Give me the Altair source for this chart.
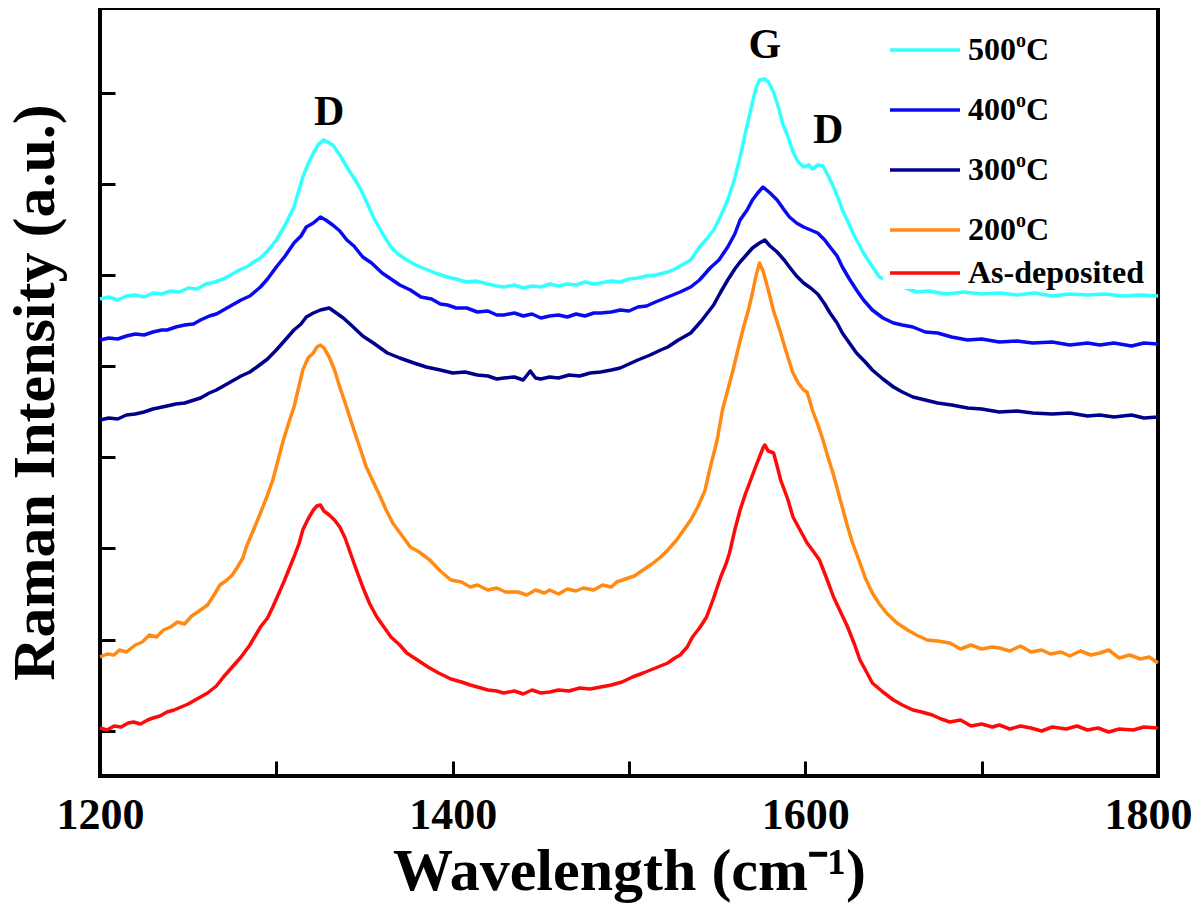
import altair as alt
import pandas as pd

# ---------------- data ----------------
SERIES = ["500oC", "400oC", "300oC", "200oC", "As-deposited"]
COLORS = ["#33FFFF", "#0A0AF0", "#00008B", "#FF8A14", "#FF0A0A"]

# (wavenumber cm-1, intensity a.u.) pairs for each spectrum
S_500 = [(1200, 477), (1205, 479), (1210, 476), (1215, 480), (1220, 481), (1225, 479), (1230, 483),
         (1235, 482), (1240, 485), (1245, 484), (1250, 488), (1255, 487), (1260, 492), (1265, 494),
         (1270, 497), (1275, 502), (1279, 506), (1284, 510), (1288, 515), (1291, 518), (1295, 525),
         (1300, 536), (1305, 551), (1310, 569), (1315, 599), (1318, 612), (1321, 623), (1324, 632),
         (1327, 636), (1329, 634), (1332, 631), (1336, 621), (1340, 609), (1344, 598), (1348, 586),
         (1352, 571), (1355, 559), (1360, 543), (1365, 529), (1369, 522), (1374, 516), (1379, 511),
         (1386, 506), (1390, 503), (1397, 499), (1402, 497), (1408, 494), (1413, 495), (1420, 492),
         (1425, 490), (1429, 489), (1435, 491), (1440, 488), (1445, 490), (1450, 489), (1455, 492),
         (1460, 490), (1465, 492), (1470, 491), (1475, 494), (1480, 492), (1484, 493), (1490, 495),
         (1495, 494), (1500, 497), (1505, 498), (1510, 500), (1515, 501), (1522, 504), (1526, 507),
         (1529, 510), (1535, 516), (1540, 529), (1544, 537), (1548, 546), (1552, 560), (1556, 576),
         (1560, 598), (1563, 619), (1566, 643), (1569, 666), (1572, 688), (1574, 696), (1577, 697),
         (1579, 694), (1582, 684), (1585, 667), (1587, 653), (1590, 640), (1593, 624), (1596, 614),
         (1599, 609), (1602, 611), (1604, 607), (1607, 611), (1610, 610), (1613, 600), (1616, 589),
         (1619, 576), (1621, 566), (1624, 555), (1627, 543), (1630, 533), (1633, 523), (1637, 512),
         (1642, 499), (1648, 494), (1654, 490), (1663, 484), (1670, 485), (1680, 482), (1690, 484),
         (1700, 482), (1710, 483), (1720, 481), (1730, 483), (1740, 480), (1750, 482), (1760, 481),
         (1770, 482), (1780, 480), (1790, 481), (1800, 480)]

S_400 = [(1200, 436), (1205, 438), (1210, 437), (1215, 440), (1220, 442), (1225, 441), (1230, 444),
         (1235, 446), (1238, 446), (1243, 449), (1248, 451), (1253, 452), (1257, 456), (1262, 460),
         (1266, 462), (1271, 467), (1275, 471), (1280, 476), (1285, 480), (1291, 489), (1295, 497),
         (1300, 509), (1305, 520), (1310, 533), (1314, 540), (1317, 549), (1321, 553), (1325, 559),
         (1328, 556), (1332, 551), (1336, 545), (1340, 536), (1344, 530), (1349, 519), (1354, 513),
         (1360, 503), (1365, 497), (1370, 491), (1376, 486), (1382, 479), (1388, 477), (1393, 472),
         (1397, 471), (1402, 468), (1408, 468), (1414, 464), (1420, 465), (1425, 461), (1429, 461),
         (1435, 463), (1440, 460), (1445, 462), (1450, 458), (1455, 460), (1460, 461), (1465, 459),
         (1470, 462), (1475, 460), (1480, 463), (1484, 463), (1490, 464), (1495, 466), (1500, 465),
         (1505, 469), (1510, 470), (1515, 474), (1522, 479), (1529, 484), (1535, 489), (1540, 496),
         (1546, 508), (1551, 516), (1556, 529), (1560, 542), (1563, 556), (1567, 566), (1570, 576),
         (1573, 583), (1576, 589), (1580, 583), (1584, 576), (1588, 566), (1591, 559), (1595, 553),
         (1599, 549), (1603, 546), (1607, 543), (1611, 536), (1614, 529), (1618, 520), (1621, 509),
         (1625, 497), (1629, 486), (1633, 476), (1638, 466), (1644, 458), (1650, 453), (1655, 451),
         (1661, 449), (1668, 444), (1675, 443), (1683, 439), (1692, 436), (1700, 437), (1710, 434),
         (1720, 435), (1729, 433), (1740, 434), (1750, 431), (1760, 433), (1767, 431), (1775, 433),
         (1785, 430), (1792, 433), (1800, 432)]

S_300 = [(1200, 356), (1205, 358), (1210, 357), (1215, 361), (1220, 362), (1225, 364), (1230, 367),
         (1238, 370), (1243, 372), (1248, 373), (1257, 378), (1262, 383), (1266, 386), (1270, 390),
         (1275, 395), (1280, 400), (1285, 404), (1289, 409), (1295, 417), (1300, 426), (1305, 436),
         (1310, 446), (1314, 452), (1317, 459), (1321, 463), (1325, 466), (1330, 468), (1334, 463),
         (1338, 458), (1343, 450), (1349, 440), (1355, 433), (1363, 423), (1370, 418), (1378, 413),
         (1385, 409), (1393, 406), (1400, 403), (1407, 404), (1414, 401), (1420, 400), (1425, 397),
         (1429, 398), (1435, 399), (1440, 396), (1444, 405), (1447, 398), (1450, 397), (1455, 399),
         (1460, 398), (1466, 401), (1472, 400), (1478, 403), (1484, 404), (1490, 406), (1495, 408),
         (1500, 412), (1505, 416), (1512, 421), (1518, 426), (1522, 429), (1528, 436), (1535, 443),
         (1541, 455), (1548, 471), (1552, 484), (1556, 496), (1560, 507), (1563, 514), (1567, 522),
         (1570, 528), (1574, 533), (1577, 536), (1580, 530), (1584, 524), (1588, 516), (1591, 509),
         (1595, 500), (1599, 493), (1603, 488), (1607, 482), (1611, 472), (1614, 463), (1618, 453),
         (1621, 443), (1625, 433), (1629, 423), (1634, 414), (1638, 406), (1644, 397), (1650, 389),
         (1655, 384), (1661, 379), (1668, 376), (1675, 373), (1683, 371), (1692, 368), (1700, 367),
         (1710, 364), (1720, 365), (1729, 363), (1740, 362), (1750, 363), (1760, 360), (1767, 361),
         (1775, 359), (1785, 361), (1792, 358), (1800, 359)]

S_200 = [(1200, 119), (1204, 122), (1208, 121), (1211, 126), (1215, 124), (1220, 131), (1224, 134),
         (1228, 141), (1232, 139), (1236, 146), (1240, 149), (1244, 154), (1248, 152), (1252, 160),
         (1257, 166), (1261, 171), (1265, 182), (1268, 191), (1272, 196), (1275, 201), (1278, 209),
         (1281, 218), (1283, 229), (1287, 246), (1291, 263), (1295, 281), (1298, 296), (1301, 316),
         (1304, 336), (1307, 353), (1310, 369), (1313, 391), (1315, 406), (1318, 418), (1321, 423),
         (1323, 429), (1325, 431), (1327, 428), (1330, 419), (1333, 406), (1336, 389), (1340, 368),
         (1344, 346), (1348, 325), (1351, 309), (1355, 294), (1359, 279), (1362, 267), (1366, 253),
         (1371, 241), (1376, 229), (1381, 224), (1387, 216), (1393, 205), (1399, 196), (1405, 194),
         (1410, 189), (1414, 191), (1420, 186), (1425, 188), (1430, 184), (1437, 184), (1442, 181),
         (1447, 186), (1452, 183), (1455, 186), (1460, 182), (1465, 187), (1470, 185), (1474, 188),
         (1480, 186), (1485, 191), (1490, 189), (1493, 194), (1498, 197), (1503, 200), (1508, 206),
         (1513, 212), (1518, 219), (1522, 226), (1527, 236), (1531, 246), (1535, 256), (1539, 269),
         (1543, 285), (1546, 308), (1550, 336), (1553, 366), (1556, 386), (1559, 406), (1562, 428),
         (1565, 449), (1568, 468), (1570, 483), (1572, 500), (1574, 513), (1576, 505), (1579, 486),
         (1582, 465), (1586, 443), (1589, 425), (1593, 403), (1596, 393), (1599, 386), (1601, 384),
         (1604, 366), (1607, 352), (1610, 336), (1613, 318), (1616, 301), (1620, 275), (1624, 249),
         (1627, 232), (1631, 213), (1634, 198), (1638, 183), (1642, 172), (1646, 163), (1652, 153),
         (1658, 146), (1663, 141), (1669, 136), (1675, 135), (1682, 133), (1688, 127), (1694, 131),
         (1700, 127), (1706, 129), (1710, 128), (1716, 125), (1722, 130), (1728, 124), (1734, 126),
         (1739, 122), (1745, 124), (1750, 120), (1756, 125), (1762, 121), (1767, 123), (1772, 126),
         (1778, 118), (1784, 121), (1790, 117), (1795, 119), (1800, 113)]

S_AS = [(1200, 48), (1204, 46), (1208, 50), (1212, 49), (1216, 53), (1219, 54), (1223, 52), (1227, 56),
        (1230, 58), (1234, 60), (1238, 64), (1242, 66), (1246, 69), (1250, 72), (1254, 76), (1257, 79),
        (1261, 83), (1266, 90), (1270, 99), (1275, 109), (1280, 119), (1285, 131), (1288, 140),
        (1291, 149), (1295, 158), (1298, 169), (1301, 181), (1304, 193), (1307, 206), (1310, 219),
        (1313, 233), (1315, 246), (1318, 257), (1321, 266), (1323, 270), (1325, 271), (1327, 265),
        (1330, 261), (1333, 256), (1336, 249), (1339, 238), (1342, 223), (1345, 208), (1349, 189),
        (1353, 172), (1357, 159), (1361, 149), (1365, 139), (1370, 131), (1374, 123), (1380, 116),
        (1386, 109), (1392, 103), (1399, 97), (1405, 94), (1410, 91), (1414, 89), (1420, 86), (1425, 85),
        (1429, 83), (1435, 85), (1440, 82), (1445, 86), (1450, 83), (1455, 84), (1460, 86), (1466, 85),
        (1472, 88), (1478, 87), (1484, 89), (1490, 91), (1496, 94), (1502, 99), (1508, 103), (1515, 108),
        (1522, 113), (1526, 118), (1529, 121), (1533, 129), (1536, 139), (1540, 148), (1544, 159),
        (1548, 178), (1552, 199), (1555, 212), (1557, 223), (1560, 246), (1563, 266), (1566, 282),
        (1569, 296), (1572, 310), (1574, 319), (1576, 328), (1577, 331), (1579, 325), (1582, 323),
        (1584, 310), (1586, 296), (1590, 277), (1593, 259), (1597, 246), (1601, 233), (1604, 226),
        (1608, 216), (1612, 198), (1616, 179), (1620, 164), (1624, 149), (1628, 131), (1631, 116),
        (1635, 103), (1638, 93), (1644, 84), (1650, 76), (1655, 71), (1661, 66), (1666, 64), (1672, 61),
        (1677, 57), (1682, 54), (1688, 56), (1694, 50), (1700, 52), (1706, 49), (1710, 51), (1716, 47),
        (1722, 50), (1728, 48), (1734, 45), (1740, 49), (1748, 47), (1754, 50), (1760, 46), (1766, 48),
        (1772, 44), (1778, 47), (1786, 46), (1792, 49), (1800, 48)]

X_TICKS = [1200, 1300, 1400, 1500, 1600, 1700, 1800]
Y_TICKS = [45, 136, 228, 319, 410, 501, 592, 683]

PEAK_LABELS = ["D", "G", "D"]
PEAK_W = [1330, 1577, 1613]
PEAK_I = [664, 731, 646]

LEGEND_MAIN = ["500", "400", "300", "200", "As-deposited"]
LEGEND_SUP = ["o", "o", "o", "o", ""]
LEGEND_TAIL = ["C", "C", "C", "C", ""]

# ---------------- layout constants ----------------
FONT = "Liberation Serif"
PLOT_W, PLOT_H = 1058, 768
LEG_ROW_Y = [42, 102, 162, 222, 265]

# ---------------- build table ----------------
rows = []
for name, pts in zip(SERIES, [S_500, S_400, S_300, S_200, S_AS]):
    for w, v in pts:
        rows.append({"series": name, "wavenumber": w, "intensity": v})
df = pd.DataFrame(rows)

x_scale = alt.Scale(domain=[1200, 1800], nice=False, zero=False)
y_scale = alt.Scale(domain=[0, PLOT_H], nice=False, zero=False)

lines = alt.Chart(df).mark_line(strokeWidth=3.5, strokeJoin="round").encode(
    x=alt.X("wavenumber:Q", scale=x_scale,
            axis=alt.Axis(values=X_TICKS, title="Wavelength (cm\u207b\u00b9)",
                          labelExpr="datum.value % 200 == 0 ? datum.label : ''",
                          format="d", labelPadding=17, titlePadding=5, labelFlush=False,
                          labelOverlap=False, labelBound=False,
                          labelOffset={"condition": {"test": "datum.value == 1800", "value": -10},
                                       "value": 0},
                          labelFontSize=44, titleFontSize=60)),
    y=alt.Y("intensity:Q", scale=y_scale,
            axis=alt.Axis(values=Y_TICKS, labels=False, title="Raman Intensity (a.u.)",
                          titlePadding=32, titleFontSize=60)),
    color=alt.Color("series:N", scale=alt.Scale(domain=SERIES, range=COLORS), legend=None),
    detail="series:N",
)

peak_df = pd.DataFrame({"label": PEAK_LABELS, "w": PEAK_W, "i": PEAK_I})
peaks = alt.Chart(peak_df).mark_text(font=FONT, fontWeight="bold", fontSize=42,
                                     color="black", baseline="middle", align="center").encode(
    x=alt.X("w:Q", scale=x_scale), y=alt.Y("i:Q", scale=y_scale), text="label:N")

one = pd.DataFrame({"k": [0]})
legend_bg = alt.Chart(one).mark_rect(fill="white").encode(
    x=alt.value(783), x2=alt.value(1055), y=alt.value(2), y2=alt.value(281))

legend_layers = []
for i, name in enumerate(SERIES):
    ly = LEG_ROW_Y[i]
    legend_layers.append(
        alt.Chart(one).mark_rule(strokeWidth=3.5, color=COLORS[i]).encode(
            x=alt.value(790), x2=alt.value(860), y=alt.value(ly)))
    legend_layers.append(
        alt.Chart(pd.DataFrame({"t": [LEGEND_MAIN[i]]})).mark_text(
            font=FONT, fontWeight="bold", fontSize=32, color="black",
            align="left", baseline="middle").encode(
            x=alt.value(868), y=alt.value(ly), text="t:N"))
    if LEGEND_SUP[i]:
        legend_layers.append(
            alt.Chart(pd.DataFrame({"t": [LEGEND_SUP[i]]})).mark_text(
                font=FONT, fontWeight="bold", fontSize=20, color="black",
                align="left", baseline="middle").encode(
                x=alt.value(916), y=alt.value(ly - 9), text="t:N"))
        legend_layers.append(
            alt.Chart(pd.DataFrame({"t": [LEGEND_TAIL[i]]})).mark_text(
                font=FONT, fontWeight="bold", fontSize=32, color="black",
                align="left", baseline="middle").encode(
                x=alt.value(926), y=alt.value(ly), text="t:N"))

chart = alt.layer(lines, peaks, legend_bg, *legend_layers).properties(
    width=PLOT_W, height=PLOT_H,
    autosize=alt.AutoSizeParams(type="none"),
    padding={"left": 92, "top": 0, "right": 34, "bottom": 128},
    background="white",
).configure_view(
    stroke="black", strokeWidth=4
).configure_axis(
    domain=False, grid=False, ticks=True, tickColor="black", tickWidth=3, tickSize=15,
    offset=-15, labelFont=FONT, labelFontWeight="bold", labelColor="black",
    titleFont=FONT, titleFontWeight="bold", titleColor="black",
)

chart.save("out.html", embed_options={"renderer": "svg", "actions": False})
